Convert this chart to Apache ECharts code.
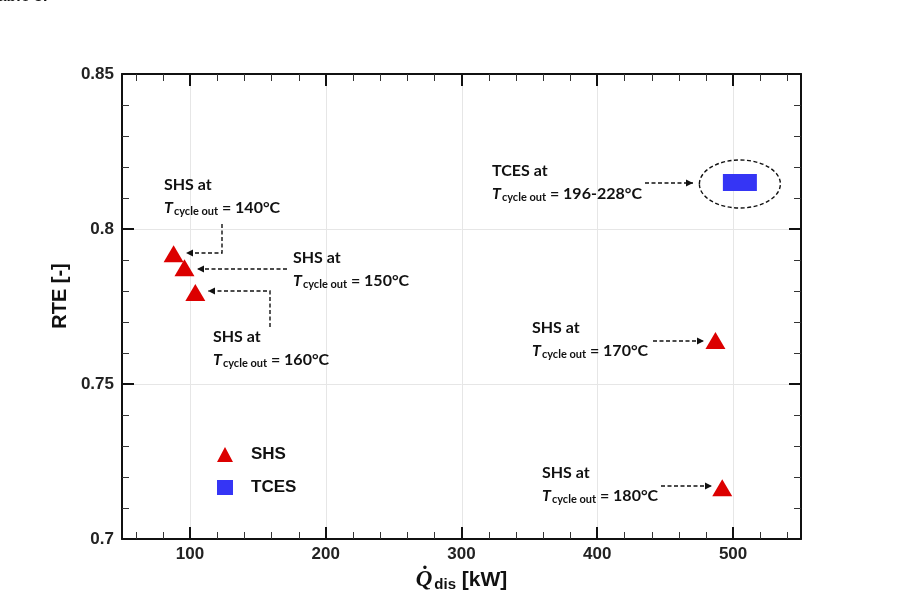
<!DOCTYPE html>
<html>
<head>
<meta charset="utf-8">
<script src="https://cdn.jsdelivr.net/npm/echarts@6/dist/echarts.min.js"></script>
<style>
  html, body { margin: 0; padding: 0; background: #fff; }
  #chart { width: 897px; height: 601px; }
</style>
</head>
<body>
<div id="chart"></div>
<script>
// axis ranges and tick values
const xMin = 50, xMax = 550;
const xMajorTicks = [100, 200, 300, 400, 500];
const yMin = 0.7, yMax = 0.85, yStep = 0.05;

// SHS points (Q_dis kW, RTE)
const shsQ = [88, 96, 104, 487, 492];
const shsRTE = [0.792, 0.7875, 0.7795, 0.764, 0.7165];
// TCES point
const tcesQ = [505];
const tcesRTE = [0.815];

const xMinorTicks = [];
for (let v = 60; v < xMax; v += 20) {
  if (v % 100 !== 0) xMinorTicks.push(v);
}

const axisFont = "'Liberation Sans', Arial, sans-serif";
const noteFont = "Lato, 'Open Sans', sans-serif";
const black = "#111";
const red = "#dc0000";
const blue = "#3535f5";

const chart = echarts.init(document.getElementById("chart"));

function xAx(pos) {
  return {
    type: "value",
    position: pos,
    min: xMin,
    max: xMax,
    axisLine: { show: true, onZero: false, lineStyle: { color: black, width: 2 } },
    axisTick: { show: false },
    axisLabel: pos === "bottom"
      ? { show: true, customValues: xMajorTicks, color: "#222", fontFamily: axisFont,
          fontWeight: "bold", fontSize: 17, margin: 7 }
      : { show: false },
    splitLine: { show: false },
  };
}

function yAx(pos) {
  return {
    type: "value",
    position: pos,
    min: yMin,
    max: yMax,
    interval: yStep,
    axisLine: { show: true, onZero: false, lineStyle: { color: black, width: 2 } },
    axisTick: { inside: true, length: 12, lineStyle: { color: black, width: 2 } },
    minorTick: { show: true, splitNumber: 5, length: 7, lineStyle: { color: "#333", width: 1 } },
    axisLabel: pos === "left"
      ? { color: "#222", fontFamily: axisFont, fontWeight: "bold", fontSize: 17, margin: 8 }
      : { show: false },
    splitLine: { show: pos === "left", lineStyle: { color: "#e6e6e6", width: 1 } },
  };
}

const option = {
  animation: false,
  grid: { left: 122, top: 74, right: 96, bottom: 62 },
  xAxis: [
    Object.assign(xAx("bottom"), {
      name: "{q|Q̇}{s|dis}{b| [kW]}",
      nameLocation: "middle",
      nameGap: 25,
      nameTextStyle: {
        rich: {
          q: { fontFamily: "'Liberation Serif', serif", fontStyle: "italic", fontWeight: "bold",
               fontSize: 23, color: black, lineHeight: 26 },
          s: { fontFamily: axisFont, fontWeight: "bold", fontSize: 15, color: black,
               padding: [9, 0, 0, 2], lineHeight: 26 },
          b: { fontFamily: axisFont, fontWeight: "bold", fontSize: 21, color: black, lineHeight: 26 },
        },
      },
    }),
    xAx("top"),
  ],
  yAxis: [yAx("left"), yAx("right")],
  legend: {
    orient: "vertical",
    left: 212,
    top: 441,
    itemGap: 16,
    itemWidth: 16,
    itemHeight: 15,
    textStyle: { fontFamily: axisFont, fontWeight: "bold", fontSize: 17, color: black,
                 padding: [0, 0, 0, 13] },
    data: [
      { name: "SHS", icon: "triangle", itemStyle: { color: red, opacity: 1 } },
      { name: "TCES", icon: "rect", itemStyle: { color: blue, opacity: 1 } },
    ],
  },
  series: [
    {
      name: "SHS",
      type: "scatter",
      symbol: "triangle",
      symbolSize: [20, 17],
      itemStyle: { color: red, opacity: 1 },
      data: shsQ.map((q, i) => [q, shsRTE[i]]),
    },
    {
      name: "TCES",
      type: "scatter",
      symbol: "rect",
      symbolSize: [34, 17],
      itemStyle: { color: blue, opacity: 1 },
      data: tcesQ.map((q, i) => [q, tcesRTE[i]]),
    },
  ],
};

chart.setOption(option);

const graphics = [];
const plotTop = chart.convertToPixel({ yAxisIndex: 0 }, yMax);
const plotBot = chart.convertToPixel({ yAxisIndex: 0 }, yMin);
function xpx(v) { return Math.round(chart.convertToPixel({ xAxisIndex: 0 }, v)) + 0.5; }

// gridlines and inside ticks on the x axes
xMajorTicks.forEach(function (v) {
  const x = xpx(v);
  graphics.push({ type: "line", z: -1, silent: true,
    shape: { x1: x, y1: plotTop + 2, x2: x, y2: plotBot - 2 },
    style: { stroke: "#e6e6e6", lineWidth: 1 } });
  [[plotBot, -12], [plotTop, 12]].forEach(function (e) {
    graphics.push({ type: "line", z: 5, silent: true,
      shape: { x1: x - 0.5, y1: e[0], x2: x - 0.5, y2: e[0] + e[1] },
      style: { stroke: black, lineWidth: 2 } });
  });
});
xMinorTicks.forEach(function (v) {
  const x = xpx(v);
  [[plotBot, -7], [plotTop, 7]].forEach(function (e) {
    graphics.push({ type: "line", z: 5, silent: true,
      shape: { x1: x, y1: e[0], x2: x, y2: e[0] + e[1] },
      style: { stroke: "#333", lineWidth: 1 } });
  });
});

// y axis title
graphics.push({ type: "text", x: 60, y: 296, rotation: Math.PI / 2, z: 10,
  style: { text: "RTE [-]", fill: black, font: "bold 20px " + axisFont,
           align: "center", verticalAlign: "middle" } });

// caption fragment cut off at the top edge
graphics.push({ type: "text", x: -11, y: 5, z: 10,
  style: { text: "Table 5.", fill: black, font: "bold 16px " + axisFont,
           align: "left", verticalAlign: "bottom" } });

// annotation helpers
function note(x, y, head, temp) {
  graphics.push({
    type: "text", x: x, y: y, z: 10,
    style: {
      text: "{h|" + head + "}\n{t|T}{s|cycle out}{v| = " + temp + "}",
      fill: black,
      rich: {
        h: { fontFamily: noteFont, fontWeight: "bold", fontSize: 16, lineHeight: 23 },
        t: { fontFamily: noteFont, fontWeight: "bold", fontStyle: "italic", fontSize: 16, lineHeight: 23 },
        s: { fontFamily: noteFont, fontWeight: "bold", fontSize: 11, padding: [7, 0, 0, 1], lineHeight: 23 },
        v: { fontFamily: noteFont, fontWeight: "bold", fontSize: 16, lineHeight: 23 },
      },
    },
  });
}
function arrow(pts) {
  graphics.push({ type: "polyline", z: 10, silent: true,
    shape: { points: pts },
    style: { stroke: black, lineWidth: 1.4, lineDash: [4, 2.5], fill: null } });
  const a = pts[pts.length - 2], b = pts[pts.length - 1];
  const dx = b[0] - a[0], dy = b[1] - a[1];
  const l = Math.sqrt(dx * dx + dy * dy);
  const ux = dx / l, uy = dy / l;
  graphics.push({ type: "polygon", z: 10, silent: true,
    shape: { points: [
      [b[0], b[1]],
      [b[0] - ux * 7 - uy * 3.5, b[1] - uy * 7 + ux * 3.5],
      [b[0] - ux * 7 + uy * 3.5, b[1] - uy * 7 - ux * 3.5],
    ] },
    style: { fill: black } });
}

note(164, 173, "SHS at", "140°C");
arrow([[222, 224], [222, 253], [186, 253]]);
note(293, 246, "SHS at", "150°C");
arrow([[287, 269], [197, 269]]);
note(213, 325, "SHS at", "160°C");
arrow([[270, 327], [270, 291], [208, 291]]);
note(492, 159, "TCES at", "196-228°C");
arrow([[645, 183], [693, 183]]);
note(532, 316, "SHS at", "170°C");
arrow([[653, 341], [704, 341]]);
note(542, 461, "SHS at", "180°C");
arrow([[661, 486], [712, 486]]);

// dashed ellipse around the TCES point
const tc = chart.convertToPixel({ xAxisIndex: 0, yAxisIndex: 0 }, [tcesQ[0], tcesRTE[0]]);
graphics.push({ type: "ellipse", z: 10, silent: true,
  shape: { cx: tc[0], cy: tc[1] + 1.5, rx: 40.5, ry: 24 },
  style: { stroke: black, lineWidth: 1.4, lineDash: [4, 2.5], fill: null } });

chart.setOption({ graphic: graphics });
</script>
</body>
</html>
